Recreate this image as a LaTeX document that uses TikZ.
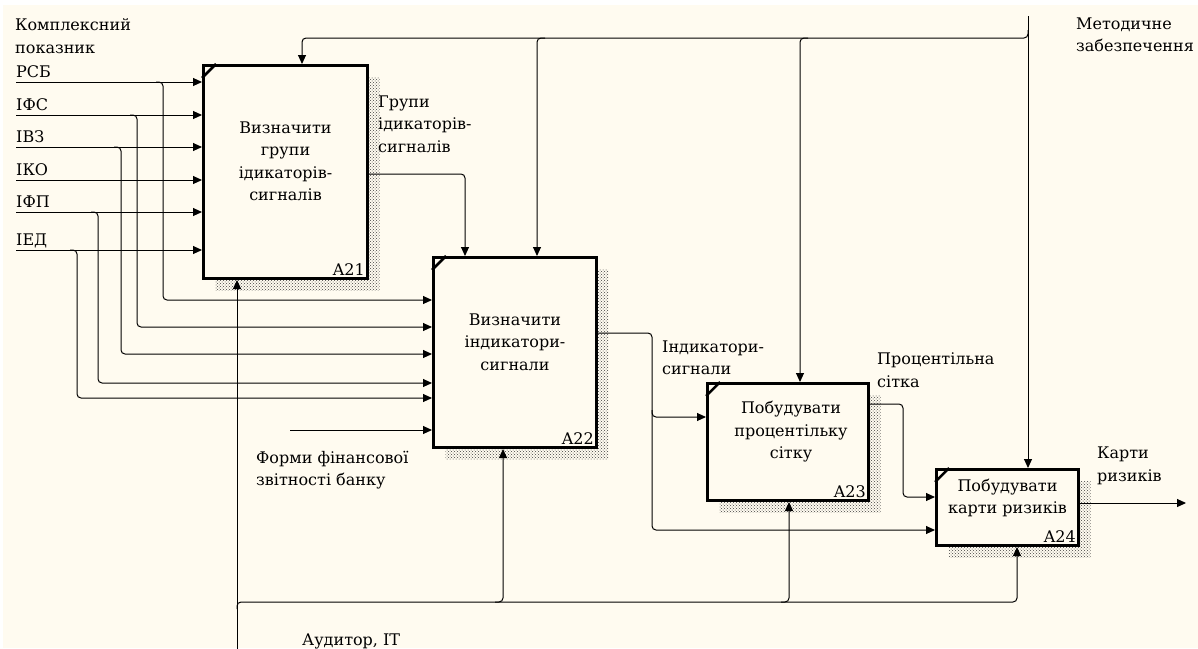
\documentclass[tikz,border=0pt]{standalone}
\usepackage{fontspec}
\setmainfont{DejaVu Serif}
\usepackage{tikz}
\usetikzlibrary{arrows.meta,calc,shadows,patterns}
\definecolor{paper}{HTML}{FFFBF0}
\definecolor{hatch}{HTML}{404040}

\tikzset{
  fnbox/.style={draw, line width=3pt, fill=paper, anchor=north west, inner sep=0pt,
    general shadow={shadow xshift=12pt, shadow yshift=-12pt, pattern=crosshatch dots, pattern color=hatch}},
  fntext/.style={align=center, inner sep=0pt},
  lbl/.style={align=left, inner sep=0pt, anchor=west},
  flow/.style={->, line width=1pt, rounded corners=4pt},
}

\begin{document}
\begin{tikzpicture}[x=1pt, y=-1pt, >={Triangle[length=9pt,width=8pt]},
  every node/.style={font=\fontsize{16}{22.5}\selectfont}]

  % --- sheet ---
  \useasboundingbox (0,0) rectangle (1198,648);
  \fill[white] (0,0) rectangle (1198,648);
  \fill[paper] (3,5) rectangle (1198,648);

  % --- function boxes ---
  \node[fnbox, minimum width=164pt, minimum height=213pt] (a21) at (202,64) {};
  \node[fnbox, minimum width=163pt, minimum height=190pt] (a22) at (432,256) {};
  \node[fnbox, minimum width=161pt, minimum height=117pt] (a23) at (706,382) {};
  \node[fnbox, minimum width=142pt, minimum height=76pt] (a24) at (935,468) {};

  \foreach \b/\n in {a21/A21, a22/A22, a23/A23, a24/A24} {
    \draw[line width=2.5pt] ([yshift=-14pt]\b.north west) -- ([xshift=14pt]\b.north west);
    \node[anchor=base east, inner sep=0pt] (\b n) at ([shift={(-4pt,5pt)}]\b.south east) {\n};
  }

  \node[fntext] (a21t) at ([yshift=10.5pt]a21.center) {Визначити\\групи\\ідикаторів-\\сигналів};
  \node[fntext] (a22t) at ([yshift=10.5pt]a22.center) {Визначити\\індикатори-\\сигнали};
  \node[fntext] (a23t) at ([shift={(3pt,10pt)}]a23.center) {Побудувати\\процентільку\\сітку};
  \node[fntext] (a24t) at ([yshift=9.5pt]a24.center) {Побудувати\\карти ризиків};

  % --- inputs ---
  \node[lbl] (kp) at (15,36) {Комплексний\\показник};
  \foreach \n/\t/\y in {rsb/РСБ/82, ifs/ІФС/115, ivz/ІВЗ/147, iko/ІКО/180, ifp/ІФП/212, ied/ІЕД/250} {
    \coordinate (\n) at (16,\y);
    \node[anchor=base west, inner sep=0pt] (\n l) at ([yshift=5pt]\n) {\t};
    \draw[flow] (\n) -- (\n -| a21.west);
  }
  \foreach \bx/\y/\ty in {163/82/300, 137/115/327, 121/147/354, 98/212/383, 77/250/398}
    \draw[flow] (\bx-7,\y) -| (\bx,\ty) -- (a22.west |- 0,\ty);

  \coordinate (forms) at (290,430);
  \draw[flow] (forms) -- (forms -| a22.west);
  \node[lbl] (formsl) at (256,470) {Форми фінансової\\звітності банку};

  % --- controls ---
  \coordinate (meth) at (1028,16);
  \draw[flow] (meth) -- (a24.north -| meth);
  \draw[flow] (1028,30) |- (302,38) -- (302,0 |- a21.north);
  \draw[flow] (545,38) -| (537,0 |- a22.north);
  \draw[flow] (808,38) -| (800,0 |- a23.north);
  \node[lbl] (methl) at (1076,35) {Методичне\\забезпечення};

  % --- mechanisms ---
  \coordinate (mech) at (237,660);
  \draw[flow] (mech) -- (a21.south -| mech);
  \draw[flow] (237,609) |- (1017,602) -- (1017,0 |- a24.south);
  \draw[flow] (495,602) -| (503,0 |- a22.south);
  \draw[flow] (781,602) -| (789,0 |- a23.south);
  \node[lbl] (mechl) at (302,641) {Аудитор, IT};

  % --- outputs ---
  \draw[flow] (a21.east |- 0,174) -| (465,0 |- a22.north);
  \node[lbl] (grl) at (378,124) {Групи\\ідикаторів-\\сигналів};

  \draw[flow] (a22.east |- 0,333) -| (652,530) -- (a24.west |- 0,530);
  \draw[flow] (652,410) |- (a23.west |- 0,417);
  \node[lbl] (indl) at (662,358) {Індикатори-\\сигнали};

  \draw[flow] (a23.east |- 0,404) -| (903,497) -- (a24.west |- 0,497);
  \node[lbl] (pcl) at (877,370) {Процентільна\\сітка};

  \coordinate (maps) at (1186,503);
  \draw[flow] (a24.east |- maps) -- (maps);
  \node[lbl] (mapsl) at (1097,466) {Карти\\ризиків};

\end{tikzpicture}
\end{document}
